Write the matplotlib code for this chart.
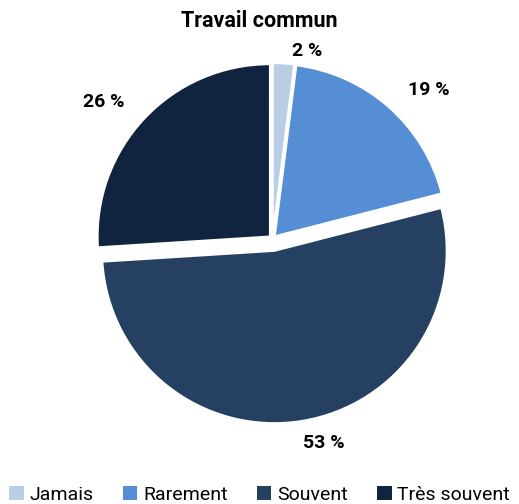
import numpy as np
import matplotlib.pyplot as plt
from matplotlib.patches import Patch

categories = ["Jamais", "Rarement", "Souvent", "Très souvent"]
values = [2, 19, 53, 26]
colors = ["#b9cde5", "#558ed5", "#254061", "#11243f"]
explode = [0.02, 0.02, 0.07, 0.02]

# label placement around the pie: radial distance and angular nudge (degrees)
label_dist = [1.11, 1.25, 1.22, 1.26]
label_shift = [-7, -5, 5, 4]

plt.rcParams['font.family'] = ['Roboto', 'DejaVu Sans']

fig = plt.figure(figsize=(5.19, 5.04), dpi=100)
ax = fig.add_axes([0.109, 0.0985, 0.832, 0.855])

wedges, _ = ax.pie(
    values, colors=colors, startangle=90, counterclock=False,
    explode=explode,
    wedgeprops=dict(edgecolor="white", linewidth=1.5),
)
ax.set_aspect("equal")

for w, v, d, s in zip(wedges, values, label_dist, label_shift):
    ang = np.deg2rad((w.theta1 + w.theta2) / 2 + s)
    ax.text(d * np.cos(ang), d * np.sin(ang), f"{v} %", ha="center",
            va="center", fontsize=14, fontweight="bold", color="black")

fig.text(0.499, 0.958, "Travail commun", ha="center", va="center",
         fontsize=15.5, fontweight="bold")

handles = [Patch(facecolor=c, edgecolor="none") for c in colors]
fig.legend(handles, categories, loc="lower center", ncol=4, frameon=False,
           fontsize=14, bbox_to_anchor=(0.5, -0.035), handlelength=0.75,
           handleheight=0.75, handletextpad=0.3, columnspacing=1.5)

fig.savefig("out.png", dpi=100)
